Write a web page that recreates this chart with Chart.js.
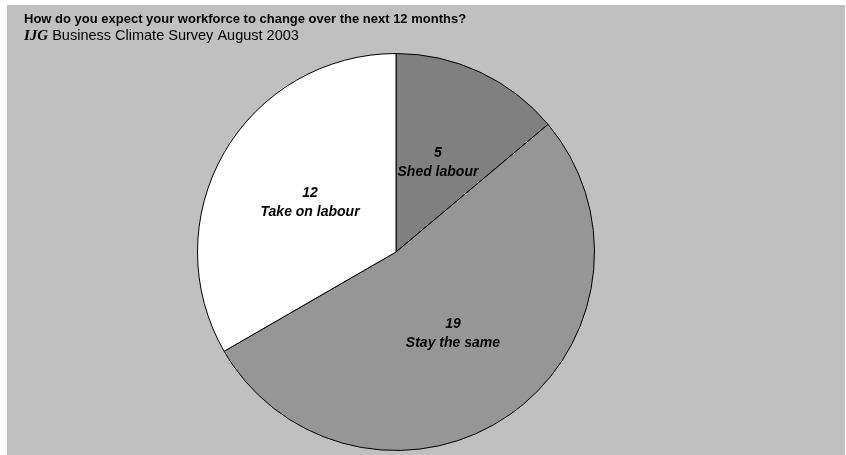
<!DOCTYPE html>
<html>
<head>
<meta charset="utf-8">
<script src="https://cdn.jsdelivr.net/npm/chart.js@4/dist/chart.umd.min.js"></script>
<style>
  html, body { margin: 0; padding: 0; background: #ffffff; }
  #wrap { width: 846px; height: 455px; position: relative; }
</style>
</head>
<body>
<div id="wrap"><canvas id="canvas-pie"></canvas></div>
<script>
const categories = ['Shed labour', 'Stay the same', 'Take on labour'];
const counts = [5, 19, 12];
const sliceColors = ['#808080', '#969696', '#ffffff'];
const titleText = 'How do you expect your workforce to change over the next 12 months?';
const sourceTag = 'IJG';
const sourceText = ' Business Climate Survey August 2003';

// grey panel + heading text
const backdrop = {
    id: 'backdrop',
    beforeDraw(chart) {
        const c = chart.ctx;
        c.save();
        c.fillStyle = '#c0c0c0';
        c.fillRect(7, 5, 838, 450);
        c.fillStyle = '#000';
        c.textBaseline = 'middle';
        c.font = 'bold 13px "Liberation Sans", Arial, sans-serif';
        c.fillText(titleText, 24, 19);
        c.font = 'italic bold 15px "Liberation Serif", "Times New Roman", serif';
        c.fillText(sourceTag, 24, 36);
        const w = c.measureText(sourceTag).width;
        c.font = '14.5px "Liberation Sans", Arial, sans-serif';
        c.fillText(sourceText, 24 + w, 36);
        c.restore();
    }
};

// value + name inside each slice
const sliceLabels = {
    id: 'sliceLabels',
    afterDatasetsDraw(chart) {
        const c = chart.ctx;
        const meta = chart.getDatasetMeta(0);
        c.save();
        c.fillStyle = '#000';
        c.textAlign = 'center';
        c.textBaseline = 'middle';
        c.font = 'italic bold 14px "Liberation Sans", Arial, sans-serif';
        meta.data.forEach((arc, i) => {
            const p = arc.getCenterPoint();
            c.fillText(String(counts[i]), p.x, p.y - 9);
            c.fillText(categories[i], p.x, p.y + 10);
        });
        c.restore();
    }
};

const canvas = document.getElementById('canvas-pie');
var ctx = canvas.getContext('2d');
new Chart(ctx, {
    type: 'pie',
    data: {
        labels: categories,
        datasets: [{
            data: counts,
            backgroundColor: sliceColors,
            borderColor: '#000',
            borderWidth: 1
        }]
    },
    options: {
        responsive: true,
        maintainAspectRatio: false,
        animation: false,
        events: [],
        layout: {
            padding: { left: 197, right: 251, top: 53, bottom: 4 }
        },
        plugins: {
            legend: { display: false },
            tooltip: { enabled: false }
        }
    },
    plugins: [backdrop, sliceLabels]
});
</script>
</body>
</html>
